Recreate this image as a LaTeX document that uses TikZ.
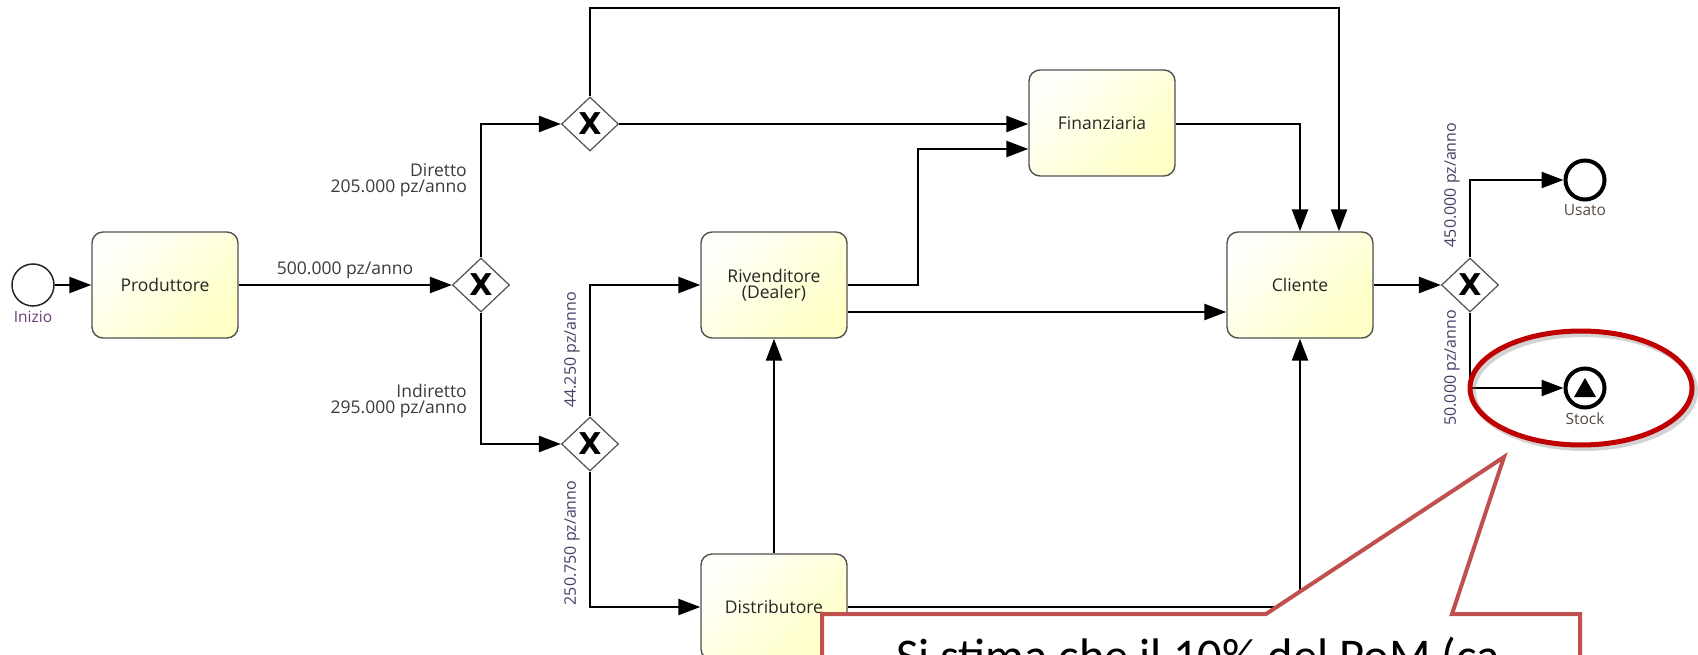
\documentclass[tikz,border=0pt]{standalone}
\usepackage{fontspec}
\setmainfont{Open Sans}
\newfontfamily\calloutfont{Carlito}
\newfontfamily\gwfont{DejaVu Sans}
\usetikzlibrary{arrows.meta,shapes.geometric,calc}

\definecolor{boxA}{HTML}{FFFFFA}
\definecolor{boxB}{HTML}{FFFFC6}
\definecolor{edgegrey}{HTML}{505050}
\definecolor{callred}{HTML}{C0504D}
\definecolor{ringred}{HTML}{C00000}
\definecolor{lbl}{HTML}{3A3A3A}
\definecolor{lblpurple}{HTML}{4A3D66}
\definecolor{evpurple}{HTML}{6A3C78}
\definecolor{evbrown}{HTML}{5A4A3A}

\begin{document}
\begin{tikzpicture}[x=1pt,y=-1pt,
  task/.style={draw=edgegrey, line width=1.4pt, rounded corners=11pt,
    top color=boxA, bottom color=boxB, shading angle=45,
    minimum width=146pt, minimum height=106pt, inner sep=0pt, align=center,
    font=\fontsize{17.5}{16}\selectfont, text=black!85},
  gw/.style={diamond, draw=edgegrey, line width=1.2pt, fill=white,
    minimum width=57pt, minimum height=54pt, inner sep=0pt,
    font=\gwfont\bfseries\fontsize{30}{30}\selectfont},
  flow/.style={line width=2.4pt, -{Triangle[length=22pt,width=16pt]}},
  evstart/.style={circle, draw=black!85, line width=1.5pt, minimum size=42pt,
    inner sep=0pt, fill=white},
  evend/.style={circle, draw=black, line width=4pt, minimum size=39pt,
    inner sep=0pt, fill=white},
  evlabel/.style={font=\fontsize{15.5}{15.5}\selectfont},
  flowlabel/.style={font=\fontsize{17.5}{16.5}\selectfont, text=lbl, align=right, inner sep=0pt},
  rotlabel/.style={font=\fontsize{16}{16}\selectfont, text=lblpurple,
    rotate=90, inner sep=0pt}
]
\useasboundingbox (0,0) rectangle (1698,655);

% events
\node[evstart] (ini) at (33,285) {};
\node[evlabel, text=evpurple, anchor=base] (iniL) at (33,322) {Inizio};
\node[evend] (usato) at (1585,180) {};
\node[evlabel, text=evbrown, anchor=base] (usatoL) at (1585,216) {Usato};
\node[evend] (stock) at (1585,388) {};
\node[evlabel, text=evbrown, anchor=base] (stockL) at (1585,424) {Stock};
\fill[black] ($(stock)+(-11,9)$) -- ($(stock)+(11,9)$) -- ($(stock)+(0,-10)$) -- cycle;

% tasks
\node[task] (prod) at (165,285) {Produttore};
\node[task] (fin) at (1102,123) {Finanziaria};
\node[task] (riv) at (774,285) {Rivenditore\\(Dealer)};
\node[task] (cli) at (1300,285) {Cliente};
\node[task] (dist) at (774,607) {Distributore};

% gateways
\node[gw] (g1) at (481,285) {X};
\node[gw] (g2) at (590,124) {X};
\node[gw] (g3) at (590,444) {X};
\node[gw] (g4) at (1470,285) {X};

% corner coordinates
\coordinate (topL) at (590,8);
\coordinate (topR) at (1339,8);

% flows
\draw[flow] (ini) -- (prod);
\draw[flow] (prod) -- (g1);
\draw[flow] (g1.north) |- (g2.west);
\draw[flow] (g1.south) |- (g3.west);
\draw[flow] (g2.north) -- (topL) -- (topR) -- (topR |- cli.north);
\draw[flow] (g2.east) -- (fin.west |- g2.east);
\draw[flow] (riv.east) -| (918,149) -- (fin.west |- 0,149);
\draw[flow] (riv.east |- 0,312) -- (cli.west |- 0,312);
\draw[flow] (fin.east |- 0,124) -| (cli.north);
\draw[flow] (g3.north) |- (riv.west);
\draw[flow] (g3.south) |- (dist.west);
\draw[flow] (dist.north) -- (riv.south);
\draw[flow] (dist.east) -| (cli.south);
\draw[flow] (cli.east) -- (g4.west);
\draw[flow] (g4.north) |- (usato.west);
\draw[flow] (g4.south) |- (stock.west);

% flow labels
\node[flowlabel, anchor=base] (l500) at (345,275) {500.000 pz/anno};
\node[flowlabel, anchor=east] (ldir) at (467,180) {Diretto\\205.000 pz/anno};
\node[flowlabel, anchor=east] (lind) at (467,401) {Indiretto\\295.000 pz/anno};
\node[rotlabel] (l44) at (572,350) {44.250 pz/anno};
\node[rotlabel] (l250) at (572,543) {250.750 pz/anno};
\node[rotlabel] (l450) at (1452,185) {450.000 pz/anno};
\node[rotlabel] (l50) at (1452,368) {50.000 pz/anno};

% highlight ellipse
\draw[gray, opacity=0.35, line width=6pt] (1584,391) ellipse [x radius=111, y radius=57];
\draw[ringred, line width=5pt] (1581,388) ellipse [x radius=111, y radius=57];

% callout
\coordinate (cA) at (822,614);
\coordinate (cB) at (1266,614);
\coordinate (cTip) at (1504,457);
\coordinate (cC) at (1452,614);
\coordinate (cD) at (1580,614);
\draw[callred, line width=4pt, fill=white, line join=miter]
  (822,720) -- (cA) -- (cB) -- (cTip) -- (cC) -- (cD) -- (1580,720) -- cycle;
\node[anchor=base, inner sep=0pt, font=\calloutfont\fontsize{48.5}{52}\selectfont, text=black] (ctext) at (1204,672) {Si stima che il 10\% del PoM (ca.};
\end{tikzpicture}
\end{document}
